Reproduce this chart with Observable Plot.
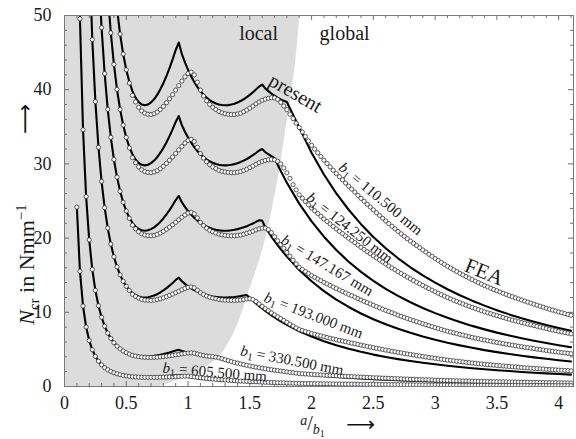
<!DOCTYPE html>
<html>
<head>
<meta charset="utf-8">
<script src="https://cdn.jsdelivr.net/npm/d3@7"></script>
<script src="https://cdn.jsdelivr.net/npm/@observablehq/plot@0.6"></script>
<style>
html,body{margin:0;padding:0;background:#fff;}
#chart svg{display:block;font-family:'Liberation Serif','Times New Roman',serif !important;}
</style>
</head>
<body>
<div id="chart"></div>
<script>
// b1 of the six sections
const b1Values = ["110.500", "124.250", "147.167", "193.000", "330.500", "605.500"];

// FEA results (circles) at a/b1 = 0.1 ... 4.1
const feaX = [
0.1,0.125,0.15,0.175, 0.2,0.225,0.25,0.275, 0.3,0.325,0.35,0.375, 0.4,0.425,0.45,0.475,
0.5,0.525,0.55,0.575, 0.6,0.625,0.65,0.675, 0.7,0.725,0.75,0.775, 0.8,0.825,0.85,0.875,
0.9,0.925,0.95,0.975, 1,1.025,1.05,1.075, 1.1,1.125,1.15,1.175, 1.2,1.225,1.25,1.275,
1.3,1.325,1.35,1.375, 1.4,1.425,1.45,1.475, 1.5,1.525,1.55,1.575, 1.6,1.625,1.65,1.675,
1.7,1.725,1.75,1.775, 1.8,1.825,1.85,1.875, 1.9,1.925,1.95,1.975, 2,2.025,2.05,2.075,
2.1,2.125,2.15,2.175, 2.2,2.225,2.25,2.275, 2.3,2.325,2.35,2.375, 2.4,2.425,2.45,2.475,
2.5,2.525,2.55,2.575, 2.6,2.625,2.65,2.675, 2.7,2.725,2.75,2.775, 2.8,2.825,2.85,2.875,
2.9,2.925,2.95,2.975, 3,3.025,3.05,3.075, 3.1,3.125,3.15,3.175, 3.2,3.225,3.25,3.275,
3.3,3.325,3.35,3.375, 3.4,3.425,3.45,3.475, 3.5,3.525,3.55,3.575, 3.6,3.625,3.65,3.675,
3.7,3.725,3.75,3.775, 3.8,3.825,3.85,3.875, 3.9,3.925,3.95,3.975, 4,4.025,4.05,4.075,
4.1];

const fea110 = [
null,null,null,null, null,null,null,null, null,null,null,null, null,null,47.50,44.81,
42.68,40.89,39.23,38.35, 37.63,37.14,36.84,36.69, 36.65,36.76,36.99,37.33, 37.75,38.24,38.77,39.34,
39.95,40.55,41.16,41.73, 42.18,42.37,41.99,41.01, 39.95,39.15,38.51,38.01, 37.63,37.33,37.07,36.88,
36.76,36.69,36.65,36.65, 36.73,36.84,37.03,37.26, 37.52,37.79,38.09,38.35, 38.58,38.73,38.85,38.92,
38.90,38.70,38.30,37.80, 37.30,36.70,36.10,35.50, 34.90,34.30,33.70,33.10, 32.50,32.00,31.50,31.00,
30.50,30.05,29.60,29.15, 28.70,28.27,27.85,27.42, 27.00,26.60,26.20,25.77, 25.35,24.96,24.57,24.19,
23.80,23.42,23.05,22.67, 22.30,21.95,21.60,21.25, 20.90,20.57,20.25,19.92, 19.60,19.30,19.00,18.70,
18.40,18.11,17.82,17.54, 17.25,16.99,16.72,16.46, 16.20,15.96,15.72,15.49, 15.25,15.04,14.82,14.61,
14.40,14.20,14.00,13.80, 13.60,13.42,13.25,13.07, 12.90,12.74,12.57,12.41, 12.25,12.10,11.95,11.80,
11.65,11.51,11.37,11.24, 11.10,10.96,10.82,10.69, 10.55,10.42,10.30,10.17, 10.05,9.94,9.82,9.71,
9.60];

const fea124 = [
null,null,null,null, null,null,null,null, null,null,null,47.65, 43.42,40.04,37.35,35.23,
33.56,32.15,30.84,30.16, 29.59,29.20,28.97,28.85, 28.82,28.91,29.08,29.35, 29.68,30.07,30.49,30.93,
31.41,31.89,32.36,32.81, 33.17,33.32,33.02,32.24, 31.41,30.78,30.28,29.89, 29.59,29.35,29.14,29.00,
28.91,28.85,28.82,28.82, 28.88,28.97,29.11,29.29, 29.50,29.71,29.95,30.16, 30.34,30.46,30.55,30.60,
30.55,30.35,30.00,29.45, 28.80,28.05,27.20,26.50, 25.83,25.38,24.94,24.49, 24.05,23.68,23.31,22.94,
22.57,22.24,21.90,21.57, 21.24,20.92,20.61,20.29, 19.98,19.68,19.39,19.07, 18.76,18.47,18.18,17.90,
17.61,17.33,17.06,16.78, 16.50,16.24,15.98,15.73, 15.47,15.22,14.99,14.74, 14.50,14.28,14.06,13.84,
13.62,13.40,13.19,12.98, 12.77,12.57,12.37,12.18, 11.99,11.81,11.63,11.46, 11.29,11.13,10.97,10.81,
10.66,10.51,10.36,10.21, 10.06,9.93,9.81,9.67, 9.55,9.43,9.30,9.18, 9.07,8.95,8.84,8.73,
8.62,8.52,8.41,8.32, 8.21,8.11,8.01,7.91, 7.81,7.71,7.62,7.53, 7.44,7.36,7.27,7.19,
7.10];

const fea147 = [
null,null,null,null, null,null,null,null, 48.36,42.17,37.36,33.58, 30.60,28.22,26.32,24.83,
23.65,22.66,21.74,21.25, 20.85,20.58,20.41,20.33, 20.31,20.37,20.50,20.69, 20.92,21.19,21.48,21.80,
22.13,22.47,22.81,23.12, 23.37,23.48,23.27,22.72, 22.13,21.69,21.34,21.06, 20.85,20.69,20.54,20.43,
20.37,20.33,20.31,20.31, 20.35,20.41,20.52,20.64, 20.79,20.94,21.11,21.25, 21.34,21.35,21.15,20.75,
20.19,19.64,19.14,18.63, 18.08,17.57,17.02,16.51, 16.05,15.78,15.50,15.23, 14.95,14.72,14.49,14.26,
14.03,13.82,13.62,13.41, 13.20,13.00,12.81,12.61, 12.42,12.24,12.05,11.85, 11.66,11.48,11.30,11.13,
10.95,10.77,10.60,10.43, 10.26,10.10,9.94,9.78, 9.61,9.46,9.32,9.16, 9.02,8.88,8.74,8.60,
8.46,8.33,8.20,8.07, 7.94,7.82,7.69,7.57, 7.45,7.34,7.23,7.13, 7.02,6.92,6.82,6.72,
6.62,6.53,6.44,6.35, 6.26,6.17,6.10,6.01, 5.93,5.86,5.78,5.71, 5.64,5.57,5.50,5.43,
5.36,5.29,5.23,5.17, 5.11,5.04,4.98,4.92, 4.85,4.79,4.74,4.68, 4.62,4.57,4.52,4.47,
4.42];

const fea193 = [
null,null,null,null, null,46.76,38.39,32.24, 27.64,24.10,21.35,19.19, 17.48,16.12,15.04,14.19,
13.51,12.95,12.42,12.14, 11.92,11.76,11.66,11.62, 11.60,11.64,11.71,11.82, 11.95,12.11,12.28,12.46,
12.65,12.84,13.03,13.21, 13.36,13.42,13.30,12.98, 12.65,12.40,12.19,12.04, 11.92,11.82,11.74,11.68,
11.64,11.62,11.60,11.60, 11.63,11.66,11.72,11.80, 11.82,11.72,11.46,11.13, 10.80,10.49,10.21,9.92,
9.66,9.39,9.15,8.91, 8.65,8.40,8.14,7.90, 7.68,7.55,7.41,7.28, 7.15,7.04,6.93,6.82,
6.71,6.61,6.51,6.41, 6.31,6.22,6.13,6.03, 5.94,5.85,5.76,5.67, 5.58,5.49,5.41,5.32,
5.24,5.15,5.07,4.99, 4.91,4.83,4.75,4.68, 4.60,4.53,4.46,4.38, 4.31,4.25,4.18,4.11,
4.05,3.98,3.92,3.86, 3.80,3.74,3.68,3.62, 3.56,3.51,3.46,3.41, 3.36,3.31,3.26,3.21,
3.17,3.12,3.08,3.04, 2.99,2.95,2.92,2.88, 2.84,2.80,2.77,2.73, 2.70,2.66,2.63,2.60,
2.56,2.53,2.50,2.47, 2.44,2.41,2.38,2.35, 2.32,2.29,2.27,2.24, 2.21,2.19,2.16,2.14,
2.11];

const fea330 = [
null,49.55,34.60,25.59, 19.76,15.78,12.96,10.88, 9.33,8.13,7.20,6.48, 5.90,5.44,5.08,4.79,
4.56,4.37,4.19,4.10, 4.02,3.97,3.94,3.92, 3.92,3.93,3.95,3.99, 4.03,4.09,4.14,4.20,
4.27,4.33,4.40,4.46, 4.51,4.53,4.49,4.38, 4.27,4.18,4.11,4.06, 4.02,3.96,3.86,3.74,
3.61,3.48,3.36,3.25, 3.15,3.04,2.95,2.86, 2.77,2.69,2.61,2.53, 2.46,2.39,2.32,2.26,
2.20,2.14,2.08,2.03, 1.97,1.91,1.85,1.80, 1.75,1.72,1.69,1.66, 1.63,1.60,1.58,1.55,
1.53,1.50,1.48,1.46, 1.44,1.41,1.39,1.37, 1.35,1.33,1.31,1.29, 1.27,1.25,1.23,1.21,
1.19,1.17,1.15,1.13, 1.12,1.10,1.08,1.06, 1.05,1.03,1.01,1.00, 0.98,0.97,0.95,0.94,
0.92,0.91,0.89,0.88, 0.86,0.85,0.84,0.82, 0.81,0.80,0.79,0.77, 0.76,0.75,0.74,0.73,
0.72,0.71,0.70,0.69, 0.68,0.67,0.66,0.65, 0.65,0.64,0.63,0.62, 0.61,0.61,0.60,0.59,
0.58,0.58,0.57,0.56, 0.56,0.55,0.54,0.53, 0.53,0.52,0.52,0.51, 0.50,0.50,0.49,0.49,
0.48];

const fea605 = [
24.18,15.54,10.85,8.02, 6.20,4.95,4.06,3.41, 2.92,2.55,2.26,2.03, 1.85,1.71,1.59,1.50,
1.43,1.37,1.31,1.29, 1.26,1.24,1.23,1.23, 1.23,1.23,1.24,1.25, 1.26,1.28,1.30,1.32,
1.34,1.36,1.38,1.40, 1.39,1.33,1.29,1.23, 1.18,1.13,1.09,1.04, 1.00,0.97,0.93,0.90,
0.87,0.84,0.81,0.78, 0.75,0.73,0.71,0.69, 0.66,0.64,0.63,0.61, 0.59,0.57,0.56,0.54,
0.53,0.51,0.50,0.49, 0.47,0.46,0.44,0.43, 0.42,0.41,0.40,0.40, 0.39,0.38,0.38,0.37,
0.37,0.36,0.36,0.35, 0.34,0.34,0.33,0.33, 0.32,0.32,0.31,0.31, 0.30,0.30,0.29,0.29,
0.29,0.28,0.28,0.27, 0.27,0.26,0.26,0.26, 0.25,0.25,0.24,0.24, 0.24,0.23,0.23,0.22,
0.22,0.22,0.21,0.21, 0.21,0.20,0.20,0.20, 0.19,0.19,0.19,0.19, 0.18,0.18,0.18,0.18,
0.17,0.17,0.17,0.17, 0.16,0.16,0.16,0.16, 0.15,0.15,0.15,0.15, 0.15,0.15,0.14,0.14,
0.14,0.14,0.14,0.13, 0.13,0.13,0.13,0.13, 0.13,0.13,0.12,0.12, 0.12,0.12,0.12,0.12,
0.12];

// present method (solid lines)
const presentX = [
0.1,0.125,0.15,0.175, 0.2,0.225,0.25,0.275, 0.3,0.325,0.35,0.375, 0.4,0.425,0.45,0.475,
0.5,0.525,0.55,0.575, 0.6,0.625,0.65,0.675, 0.7,0.725,0.75,0.775, 0.8,0.825,0.85,0.875,
0.9,0.925,0.95,0.975, 1,1.025,1.05,1.075, 1.1,1.125,1.15,1.175, 1.2,1.225,1.25,1.275,
1.3,1.325,1.35,1.375, 1.4,1.425,1.45,1.475, 1.5,1.525,1.55,1.575, 1.6,1.625,1.65,1.675,
1.7,1.725,1.75,1.775, 1.8,
1.9,2,2.1,2.2,2.3,2.4,2.5,2.6,2.7,2.8,2.9,3,3.1,3.2,3.3,3.4,3.5,3.6,3.7,3.8,3.9,4,4.1];

const present110 = [
null,null,null,null, null,null,null,null, null,null,null,null, null,50.92,47.50,44.81,
42.68,41.05,39.81,38.93, 38.34,38.01,37.90,38.00, 38.28,38.71,39.30,40.02, 40.87,41.83,42.91,44.08,
45.35,46.35,44.81,43.68, 42.68,41.81,41.05,40.38, 39.81,39.33,38.93,38.60, 38.34,38.14,38.01,37.93,
37.90,37.92,38.00,38.11, 38.28,38.47,38.71,38.99, 39.30,39.65,40.02,40.43, 40.70,40.18,39.81,39.48,
39.19,38.93,38.70,38.50, 38.34,
34.90,31.50,28.57,26.03,23.82,21.88,20.16,18.64,17.28,16.07,14.98,14.00,13.11,12.30,11.57,10.90,10.29,9.72,9.20,8.73,8.28,7.88,7.50];

const present124 = [
null,null,null,null, null,null,null,null, null,null,53.01,47.65, 43.42,40.04,37.35,35.23,
33.56,32.27,31.30,30.61, 30.14,29.88,29.80,29.88, 30.10,30.44,30.90,31.47, 32.14,32.89,33.74,34.66,
35.66,36.45,35.23,34.34, 33.56,32.88,32.27,31.75, 31.30,30.92,30.61,30.35, 30.14,29.99,29.88,29.82,
29.80,29.82,29.88,29.97, 30.10,30.25,30.44,30.66, 30.90,31.17,31.47,31.79, 32.01,31.59,31.30,31.04,
30.79,29.91,29.06,28.25, 27.47,
24.65,22.25,20.19,18.39,16.82,15.45,14.24,13.16,12.21,11.36,10.58,9.89,9.26,8.70,8.17,7.70,7.26,6.87,6.50,6.17,5.85,5.56,5.30];

const present147 = [
null,null,null,null, null,null,null,56.43, 48.36,42.17,37.36,33.58, 30.60,28.22,26.32,24.83,
23.65,22.74,22.06,21.57, 21.24,21.06,21.00,21.05, 21.21,21.45,21.78,22.18, 22.65,23.18,23.77,24.42,
25.13,25.68,24.83,24.20, 23.65,23.17,22.74,22.38, 22.06,21.79,21.57,21.39, 21.24,21.13,21.06,21.01,
21.00,21.01,21.05,21.12, 21.21,21.32,21.45,21.60, 21.78,21.97,22.18,22.40, 22.35,21.47,20.83,20.21,
19.62,19.06,18.51,18.00, 17.50,
15.71,14.18,12.86,11.71,10.72,9.84,9.07,8.39,7.78,7.23,6.74,6.30,5.90,5.54,5.21,4.90,4.63,4.38,4.14,3.93,3.73,3.54,3.37];

const present193 = [
null,null,null,null, 58.55,46.76,38.39,32.24, 27.64,24.10,21.35,19.19, 17.48,16.12,15.04,14.19,
13.51,13.00,12.61,12.33, 12.14,12.03,12.00,12.03, 12.12,12.26,12.44,12.67, 12.94,13.25,13.59,13.96,
14.36,14.68,14.19,13.83, 13.51,13.24,13.00,12.79, 12.61,12.45,12.33,12.22, 12.14,12.08,12.03,12.01,
12.00,12.01,12.03,12.07, 12.12,12.18,12.26,12.34, 11.95,11.57,11.20,10.84, 10.51,10.19,9.88,9.59,
9.31,9.04,8.78,8.54, 8.30,
7.45,6.73,6.10,5.56,5.08,4.67,4.30,3.98,3.69,3.43,3.20,2.99,2.80,2.63,2.47,2.33,2.20,2.08,1.96,1.86,1.77,1.68,1.60];

const present330 = [
77.11,49.55,34.60,25.59, 19.76,15.78,12.96,10.88, 9.33,8.13,7.20,6.48, 5.90,5.44,5.08,4.79,
4.56,4.39,4.25,4.16, 4.10,4.06,4.05,4.06, 4.09,4.14,4.20,4.28, 4.37,4.47,4.58,4.71,
4.85,4.95,4.79,4.67, 4.56,4.47,4.39,4.32, 4.25,4.20,4.16,4.12, 4.10,4.08,3.97,3.81,
3.67,3.53,3.40,3.28, 3.16,3.05,2.95,2.85, 2.76,2.67,2.58,2.50, 2.42,2.35,2.28,2.21,
2.15,2.08,2.02,1.97, 1.91,
1.72,1.55,1.41,1.28,1.17,1.08,0.99,0.92,0.85,0.79,0.74,0.69,0.65,0.61,0.57,0.54,0.51,0.48,0.45,0.43,0.41,0.39,0.37];

const present605 = [
24.18,15.54,10.85,8.02, 6.20,4.95,4.06,3.41, 2.92,2.55,2.26,2.03, 1.85,1.71,1.59,1.50,
1.43,1.38,1.33,1.30, 1.28,1.27,1.27,1.27, 1.28,1.30,1.32,1.34, 1.37,1.40,1.44,1.48,
1.52,1.54,1.44,1.37, 1.30,1.24,1.18,1.12, 1.07,1.03,0.98,0.94, 0.90,0.87,0.83,0.80,
0.77,0.74,0.71,0.69, 0.66,0.64,0.62,0.60, 0.58,0.56,0.54,0.52, 0.51,0.49,0.48,0.46,
0.45,0.44,0.42,0.41, 0.40,
0.36,0.33,0.29,0.27,0.25,0.23,0.21,0.19,0.18,0.17,0.15,0.14,0.14,0.13,0.12,0.11,0.11,0.10,0.09,0.09,0.09,0.08,0.08];

// edge of the shaded "local" region
const localEdgeY = [0, 0.8, 1.9, 3.5, 6.2, 8.9, 11.6, 12.9, 16, 20, 25, 30, 35, 38.5, 42, 46, 50];
const localEdgeX = [0.77, 0.91, 1.07, 1.22, 1.34, 1.415, 1.47, 1.495, 1.56, 1.63, 1.695, 1.75, 1.795, 1.83, 1.858, 1.885, 1.905];

// axis ticks
const xMajor = [0, 0.5, 1, 1.5, 2, 2.5, 3, 3.5, 4];
const xMinor = [0.1,0.2,0.3,0.4,0.6,0.7,0.8,0.9,1.1,1.2,1.3,1.4,1.6,1.7,1.8,1.9,2.1,2.2,2.3,2.4,2.6,2.7,2.8,2.9,3.1,3.2,3.3,3.4,3.6,3.7,3.8,3.9,4.1];
const yMajor = [0, 10, 20, 30, 40, 50];
const yMinor = [2,4,6,8,12,14,16,18,22,24,26,28,32,34,36,38,42,44,46,48];

// annotation anchors (data coordinates)
const labelAtX = [2.559, 2.309, 2.127, 2.016, 1.842, 1.216];
const labelAtY = [25.3, 21.36, 16.3, 9.57, 3.5, 1.93];
const labelAngle = [40, 38, 31, 21, 11, 5];

// ---- build tables ----
const feaAll = [fea110, fea124, fea147, fea193, fea330, fea605];
const presentAll = [present110, present124, present147, present193, present330, present605];
const feaRows = [];
feaAll.forEach((ys, k) => ys.forEach((y, i) => {
  if (y != null && i < feaX.length) feaRows.push({x: feaX[i], y, b1: b1Values[k]});
}));
const presentRows = [];
presentAll.forEach((ys, k) => ys.forEach((y, i) => {
  if (i < presentX.length) presentRows.push({x: presentX[i], y, b1: b1Values[k]});
}));
const edge = localEdgeY.map((y, i) => ({y, x: localEdgeX[i]}));
const labels = b1Values.map((v, i) => ({text: "b1 = " + v + " mm", x: labelAtX[i], y: labelAtY[i], a: labelAngle[i]}));

const tickColor = "#6e6e6e";
const ink = "#1a1a1a";

const chart = Plot.plot({
  width: 576,
  height: 439,
  marginLeft: 64,
  marginRight: 3,
  marginTop: 15,
  marginBottom: 53,
  style: "background:#fff;color:#1a1a1a;font-size:18px;",
  x: {domain: [0, 4.12], ticks: xMajor, tickSize: 0, tickPadding: 10, tickFormat: d => String(d), label: null},
  y: {domain: [0, 50], ticks: yMajor, tickSize: 0, tickPadding: 13, label: null},
  marks: [
    Plot.areaX(edge, {y: "y", x1: 0, x2: "x", fill: "#dcdcdc", curve: "monotone-y"}),
    // ticks inside the frame
    Plot.ruleX(xMajor, {x: d => d, y1: 0, y2: 0.67, stroke: tickColor}),
    Plot.ruleX(xMinor, {x: d => d, y1: 0, y2: 0.4, stroke: tickColor}),
    Plot.ruleX(xMajor, {x: d => d, y1: 50, y2: 49.33, stroke: tickColor}),
    Plot.ruleX(xMinor, {x: d => d, y1: 50, y2: 49.6, stroke: tickColor}),
    Plot.ruleY(yMajor, {y: d => d, x1: 0, x2: 0.041, stroke: tickColor}),
    Plot.ruleY(yMinor, {y: d => d, x1: 0, x2: 0.024, stroke: tickColor}),
    Plot.ruleY(yMajor, {y: d => d, x1: 4.12, x2: 4.079, stroke: tickColor}),
    Plot.ruleY(yMinor, {y: d => d, x1: 4.12, x2: 4.096, stroke: tickColor}),
    Plot.line(presentRows, {x: "x", y: "y", z: "b1", stroke: "#000", strokeWidth: 2.1, clip: true}),
    Plot.dot(feaRows, {x: "x", y: "y", r: 2.1, stroke: "#333", strokeWidth: 0.8, fill: "#fff", clip: true}),
    Plot.frame({stroke: "#7a7a7a"}),
    Plot.text(labels, {x: "x", y: "y", text: "text", rotate: "a", fontSize: 15, fill: ink}),
    Plot.text(["local"], {x: [1.571], y: [47.5], fontSize: 20, fill: ink}),
    Plot.text(["global"], {x: [2.267], y: [47.5], fontSize: 20, fill: ink}),
    Plot.text(["present"], {x: [1.87], y: [39.5], rotate: 30, fontSize: 20, fill: ink}),
    Plot.text(["FEA"], {x: [3.397], y: [15.43], rotate: 22, fontSize: 21, fill: ink}),
    // axis titles
    Plot.text(["Ncr in Nmm-1"], {frameAnchor: "left", textAnchor: "middle", lineAnchor: "middle", dx: -38, dy: 63.5, rotate: -90, fontSize: 22, fill: ink}),
    Plot.text(["\u27F6"], {frameAnchor: "left", textAnchor: "middle", lineAnchor: "middle", dx: -39, dy: -82, rotate: -90, fontSize: 21, fontFamily: "DejaVu Sans", fill: "#111"}),
    Plot.text(["a/b1"], {frameAnchor: "bottom", textAnchor: "middle", lineAnchor: "middle", dx: -6.5, dy: 37, fontSize: 20, fill: ink}),
    Plot.text(["\u27F6"], {frameAnchor: "bottom", textAnchor: "middle", lineAnchor: "middle", dx: 41.5, dy: 38, fontSize: 20, fontFamily: "DejaVu Sans", fill: "#111"})
  ]
});

// rich text: italics, sub- and superscripts
const NS = "http://www.w3.org/2000/svg";
function rich(el, parts) {
  el.textContent = "";
  for (const p of parts) {
    const t = document.createElementNS(NS, "tspan");
    t.textContent = p.t;
    if (p.i) t.setAttribute("font-style", "italic");
    if (p.s) t.setAttribute("font-size", p.s);
    if (p.dy) t.setAttribute("dy", p.dy);
    el.appendChild(t);
  }
}
chart.querySelectorAll("text").forEach(el => {
  const s = el.textContent;
  const m = s.match(/^b1 = (.*)$/);
  if (m) {
    rich(el, [{t: "b", i: 1}, {t: "1", s: "10.5px", dy: "3"}, {t: " = " + m[1], dy: "-3"}]);
  } else if (s === "Ncr in Nmm-1") {
    rich(el, [{t: "N", i: 1}, {t: "cr", s: "15px", dy: "5"}, {t: " in Nmm", dy: "-5"}, {t: "\u22121", s: "15px", dy: "-8"}]);
  } else if (s === "a/b1") {
    rich(el, [{t: "a", i: 1, s: "14px", dy: "-5"}, {t: "/", dy: "5"}, {t: "b", i: 1, s: "14px", dy: "4"}, {t: "1", s: "10px", dy: "3"}]);
  }
});

document.getElementById("chart").appendChild(chart);
</script>
</body>
</html>
